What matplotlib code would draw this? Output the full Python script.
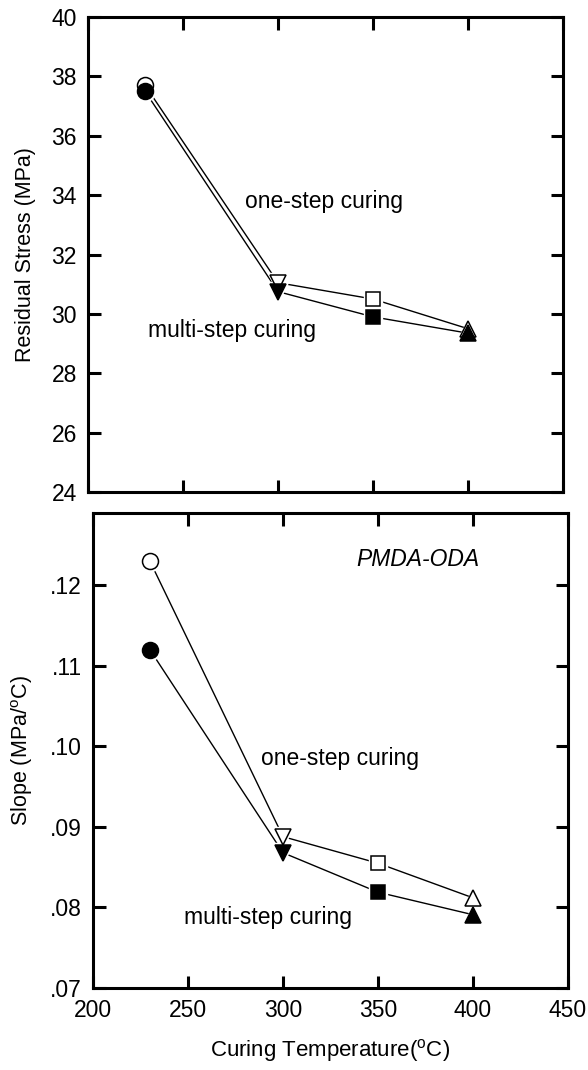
import matplotlib
matplotlib.use("Agg")
import matplotlib.pyplot as plt
from matplotlib.ticker import FuncFormatter

plt.rcParams['font.family'] = ['Liberation Sans', 'DejaVu Sans']
plt.rcParams['mathtext.fontset'] = 'custom'
plt.rcParams['mathtext.rm'] = 'Liberation Sans'
plt.rcParams['mathtext.it'] = 'Liberation Sans:italic'

# ---- data ----
temps = [230, 300, 350, 400]
stress_one_step = [37.7, 31.05, 30.5, 29.5]
stress_multi_step = [37.5, 30.75, 29.9, 29.35]
slope_one_step = [0.123, 0.0888, 0.0855, 0.0812]
slope_multi_step = [0.112, 0.0868, 0.0819, 0.0791]
marker_shapes = ['o', 'v', 's', '^']
x_ticks = [200, 250, 300, 350, 400, 450]
stress_ticks = [24, 26, 28, 30, 32, 34, 36, 38, 40]
slope_ticks = [0.07, 0.08, 0.09, 0.10, 0.11, 0.12]

fig = plt.figure(figsize=(5.88, 10.7), dpi=100)
ax1 = fig.add_axes([88/588, 1-492/1070, 475/588, 475/1070])
ax2 = fig.add_axes([93/588, 1-988/1070, 475/588, 475/1070])

msizes = {'o': 11.5, 'v': 12, 's': 10.5, '^': 12}
FS = 16.5
LFS = 15.5

def draw(ax, y_open, y_fill):
    ax.plot(temps, y_open, color='black', lw=1.0, zorder=2)
    ax.plot(temps, y_fill, color='black', lw=1.0, zorder=2)
    for x, yo, yf, m in zip(temps, y_open, y_fill, marker_shapes):
        for y in (yo, yf):
            ax.plot([x], [y], marker=m, ms=msizes[m] + 3, mfc='white', mec='white',
                    ls='none', zorder=3)
        ax.plot([x], [yo], marker=m, ms=msizes[m], mfc='white', mec='black',
                mew=1.1, ls='none', zorder=4)
        ax.plot([x], [yf], marker=m, ms=msizes[m], mfc='black', mec='black',
                mew=1.1, ls='none', zorder=5)

draw(ax1, stress_one_step, stress_multi_step)
draw(ax2, slope_one_step, slope_multi_step)

for ax in (ax1, ax2):
    ax.set_xlim(200, 450)
    ax.set_xticks(x_ticks)
    for s in ax.spines.values():
        s.set_linewidth(2.2)
    ax.tick_params(direction='in', length=9, width=2.2, top=True, right=True,
                   labelsize=FS, pad=8)

ax1.set_ylim(24, 40)
ax1.set_yticks(stress_ticks)
ax1.tick_params(labelbottom=False)
ax1.set_ylabel('Residual Stress (MPa)', fontsize=LFS)
ax1.yaxis.set_label_coords(-0.11, 0.5)
ax1.text(324, 33.8, 'one-step curing', fontsize=FS, ha='center', va='center')
ax1.text(276, 29.43, 'multi-step curing', fontsize=FS, ha='center', va='center')

ax2.set_ylim(0.07, 0.129)
ax2.set_yticks(slope_ticks)
ax2.yaxis.set_major_formatter(FuncFormatter(lambda v, p: ('%.2f' % v).lstrip('0')))
ax2.set_ylabel('Slope (MPa/$^{\\rm o}$C)', fontsize=LFS)
ax2.yaxis.set_label_coords(-0.122, 0.5)
ax2.set_xlabel('Curing Temperature($^{\\rm o}$C)', fontsize=16, labelpad=11)
ax2.text(371, 0.1232, 'PMDA-ODA', fontsize=FS, style='italic', ha='center', va='center')
ax2.text(330, 0.0985, 'one-step curing', fontsize=FS, ha='center', va='center')
ax2.text(292, 0.0788, 'multi-step curing', fontsize=FS, ha='center', va='center')

fig.savefig('out.png', dpi=100)
